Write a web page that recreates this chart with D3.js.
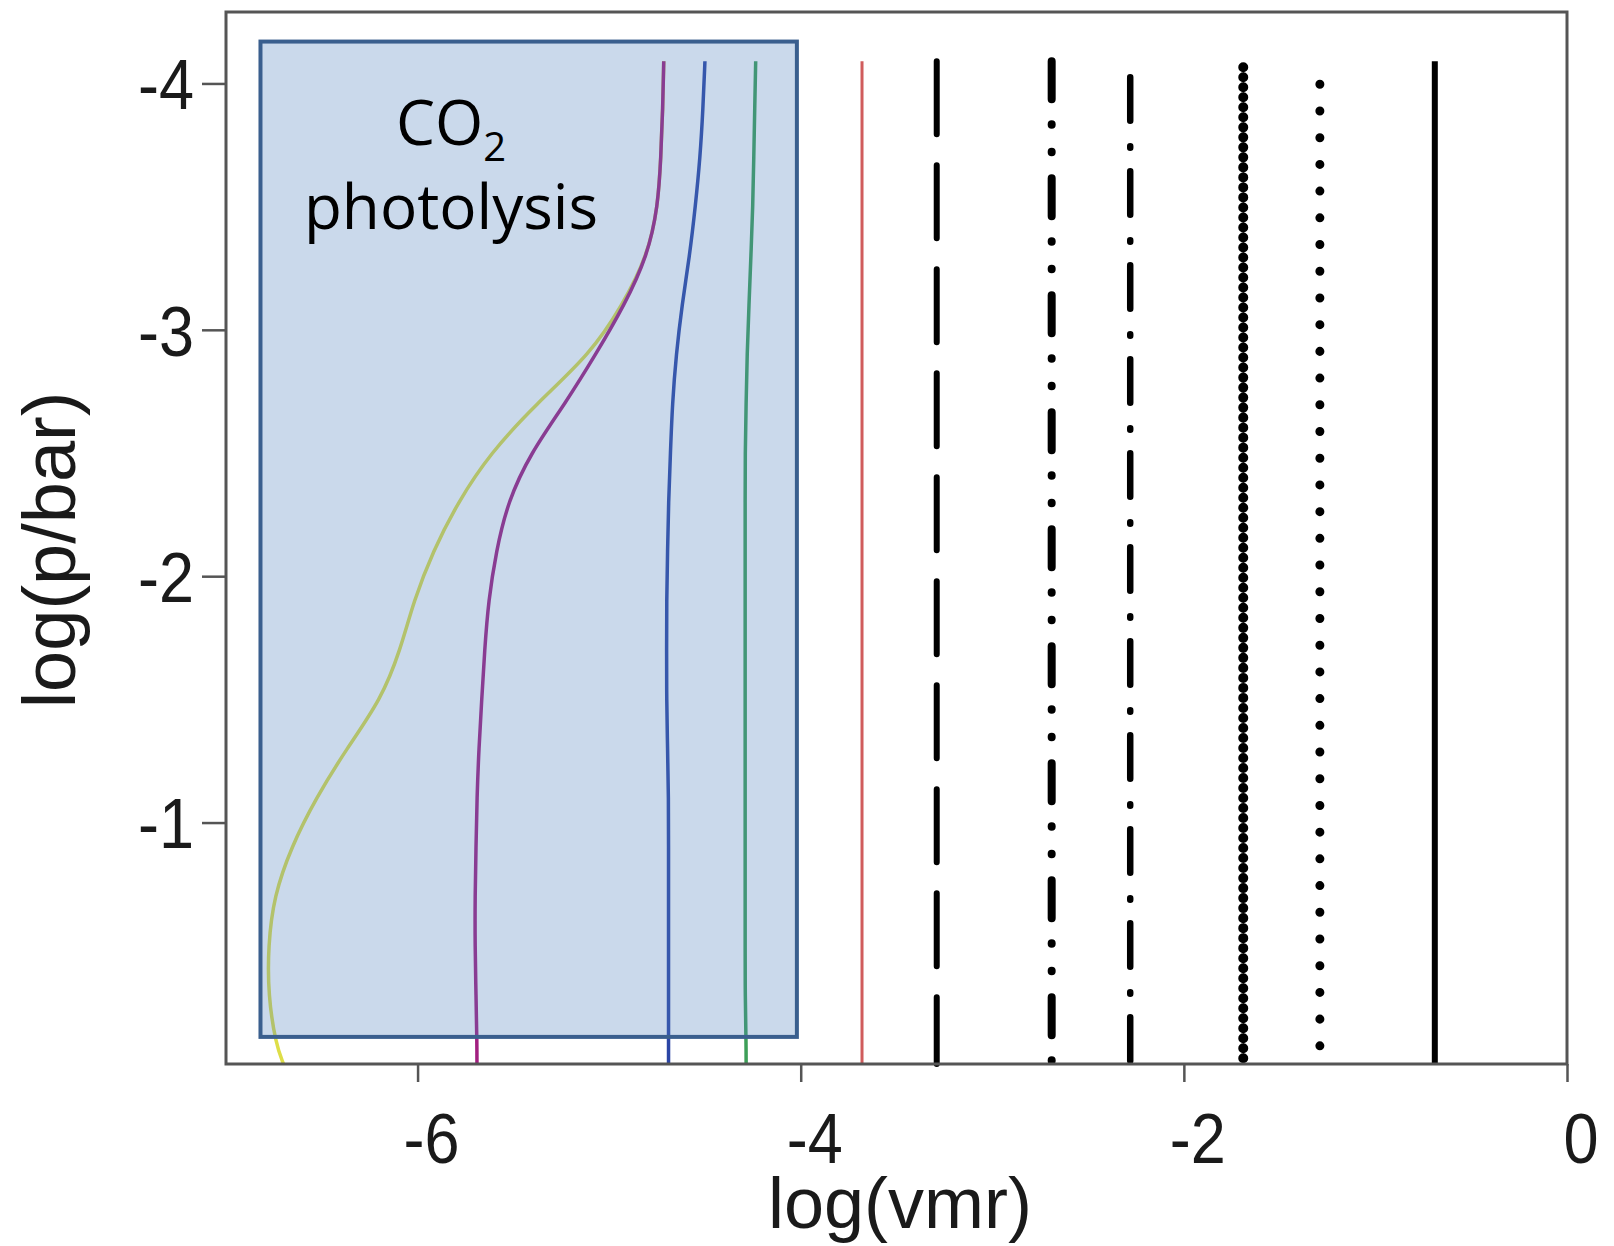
<!DOCTYPE html>
<html>
<head>
<meta charset="utf-8">
<script src="https://cdn.jsdelivr.net/npm/d3@7"></script>
<style>
  body { margin: 0; background: #fff; }
  svg { display: block; }
</style>
</head>
<body>
<svg id="chart" width="1614" height="1246"></svg>
<script>
// pressure levels, log(p/bar)
const logP = [-4.09, -3.9, -3.7, -3.5, -3.3, -3.1, -2.9, -2.7, -2.5, -2.3, -2.1, -1.9, -1.7, -1.5, -1.3, -1.1, -0.9, -0.7, -0.5, -0.3, -0.1, -0.02]

// log(vmr) profiles, one value per level
const yellowVmr = [-4.715, -4.72, -4.73, -4.745, -4.80, -4.93, -5.10, -5.38, -5.62, -5.79, -5.92, -6.02, -6.09, -6.19, -6.37, -6.53, -6.66, -6.75, -6.78, -6.78, -6.74, -6.70]
const magentaVmr = [-4.715, -4.72, -4.73, -4.745, -4.80, -4.92, -5.07, -5.23, -5.41, -5.53, -5.59, -5.63, -5.65, -5.665, -5.68, -5.69, -5.695, -5.70, -5.70, -5.695, -5.69, -5.69]
const blueVmr = [-4.50, -4.51, -4.525, -4.55, -4.58, -4.62, -4.65, -4.67, -4.68, -4.69, -4.695, -4.70, -4.70, -4.70, -4.695, -4.69, -4.69, -4.69, -4.69, -4.69, -4.69, -4.69]
const greenVmr = [-4.235, -4.24, -4.245, -4.25, -4.26, -4.27, -4.28, -4.285, -4.29, -4.29, -4.29, -4.29, -4.29, -4.29, -4.29, -4.29, -4.29, -4.29, -4.29, -4.29, -4.285, -4.285]

// constant mixing ratios (vertical lines)
const fixedVmr = [-3.68, -3.29, -2.69, -2.28, -1.69, -1.29, -0.69]

const xTicks = [-6, -4, -2, 0]
const yTicks = [-4, -3, -2, -1]

// shaded CO2 photolysis region
const boxVmr = [-6.82, -4.02]
const boxP = [-4.17, -0.13]

const curveColors = ['#dede48', '#a21f80', '#2b45a5', '#3d9f58']
const fixedStyles = [
  { color: '#d05c5c', width: 3, dash: null, offset: 0, cap: 'butt' },
  { color: '#000', width: 6, dash: '73,31', offset: 0, cap: 'round' },
  { color: '#000', width: 8, dash: '38,25,0.5,27,0.5,26', offset: 0, cap: 'round' },
  { color: '#000', width: 6.5, dash: '43.5,25.5,1.5,23.5', offset: -16, cap: 'round' },
  { color: '#000', width: 10, dash: '0.01,10', offset: -6, cap: 'round' },
  { color: '#000', width: 9, dash: '0.01,26.7', offset: -23, cap: 'round' },
  { color: '#000', width: 6, dash: null, offset: 0, cap: 'butt' }
]

const svg = d3.select('#chart')

const x = d3.scaleLinear().domain([-7, 0]).range([226, 1567])
const y = d3.scaleLinear().domain([-4.29, -0.02]).range([12, 1064])

const line = d3.line()
    .x(d => x(d.v))
    .y(d => y(d.p))
    .curve(d3.curveBasis)

const profiles = [yellowVmr, magentaVmr, blueVmr, greenVmr]

svg.append('g')
    .selectAll('path')
    .data(profiles)
    .enter()
    .append('path')
    .attr('d', vals => line(vals.map((v, i) => ({ v: v, p: logP[i] }))))
    .attr('fill', 'none')
    .attr('stroke', (d, i) => curveColors[i])
    .attr('stroke-width', 3.5)

const pTop = logP[0]
const pBottom = logP[logP.length - 1]

svg.append('g')
    .selectAll('path')
    .data(fixedVmr)
    .enter()
    .append('path')
    .attr('d', v => line([{ v: v, p: pTop }, { v: v, p: pBottom }]))
    .attr('fill', 'none')
    .attr('stroke', (d, i) => fixedStyles[i].color)
    .attr('stroke-width', (d, i) => fixedStyles[i].width)
    .attr('stroke-dasharray', (d, i) => fixedStyles[i].dash)
    .attr('stroke-dashoffset', (d, i) => fixedStyles[i].offset)
    .attr('stroke-linecap', (d, i) => fixedStyles[i].cap)

// translucent box over the curves
svg.append('rect')
    .attr('x', x(boxVmr[0]))
    .attr('y', y(boxP[0]))
    .attr('width', x(boxVmr[1]) - x(boxVmr[0]))
    .attr('height', y(boxP[1]) - y(boxP[0]))
    .attr('fill', '#4f81bd')
    .attr('fill-opacity', 0.3)
    .attr('stroke', '#3a5f8e')
    .attr('stroke-width', 4)

const note = svg.append('g')
    .attr('font-family', '"Open Sans", sans-serif')
    .attr('fill', '#000')
    .attr('text-anchor', 'middle')

const co2 = note.append('text')
    .attr('x', 451)
    .attr('y', 145)
    .attr('font-size', 62)
    .text('CO')
co2.append('tspan')
    .attr('font-size', 40)
    .attr('dy', 16)
    .text('2')

note.append('text')
    .attr('x', 451)
    .attr('y', 229)
    .attr('font-size', 62)
    .text('photolysis')

// frame
svg.append('rect')
    .attr('x', x.range()[0])
    .attr('y', y.range()[0])
    .attr('width', x.range()[1] - x.range()[0])
    .attr('height', y.range()[1] - y.range()[0])
    .attr('fill', 'none')
    .attr('stroke', '#555')
    .attr('stroke-width', 3)

const labelFont = '"Liberation Sans", Arial, sans-serif'

const xAxis = svg.append('g')
    .attr('transform', `translate(0,${y.range()[1]})`)
    .call(d3.axisBottom(x).tickValues(xTicks).tickSize(18).tickFormat(d => String(d)))
xAxis.select('.domain').remove()
xAxis.selectAll('line').attr('stroke', '#555').attr('stroke-width', 2.5)
xAxis.selectAll('text')
    .attr('font-family', labelFont)
    .attr('font-size', 70)
    .attr('fill', '#1a1a1a')
    .attr('y', 99)
    .attr('dy', 0)
    .attr('x', 15)
    .attr('transform', 'scale(0.9,1)')

const yAxis = svg.append('g')
    .attr('transform', `translate(${x.range()[0]},0)`)
    .call(d3.axisLeft(y).tickValues(yTicks).tickSize(24).tickFormat(d => String(d)))
yAxis.select('.domain').remove()
yAxis.selectAll('line').attr('stroke', '#555').attr('stroke-width', 2.5)
yAxis.selectAll('text')
    .attr('font-family', labelFont)
    .attr('font-size', 70)
    .attr('fill', '#1a1a1a')
    .attr('x', -32 / 0.9)
    .attr('dy', '0.36em')
    .attr('transform', 'scale(0.9,1)')

svg.append('text')
    .attr('x', 900)
    .attr('y', 1228)
    .attr('text-anchor', 'middle')
    .attr('font-family', labelFont)
    .attr('font-size', 72)
    .attr('fill', '#1a1a1a')
    .text('log(vmr)')

svg.append('text')
    .attr('transform', 'translate(75,550) rotate(-90)')
    .attr('text-anchor', 'middle')
    .attr('font-family', labelFont)
    .attr('font-size', 74)
    .attr('fill', '#1a1a1a')
    .text('log(p/bar)')
</script>
</body>
</html>
